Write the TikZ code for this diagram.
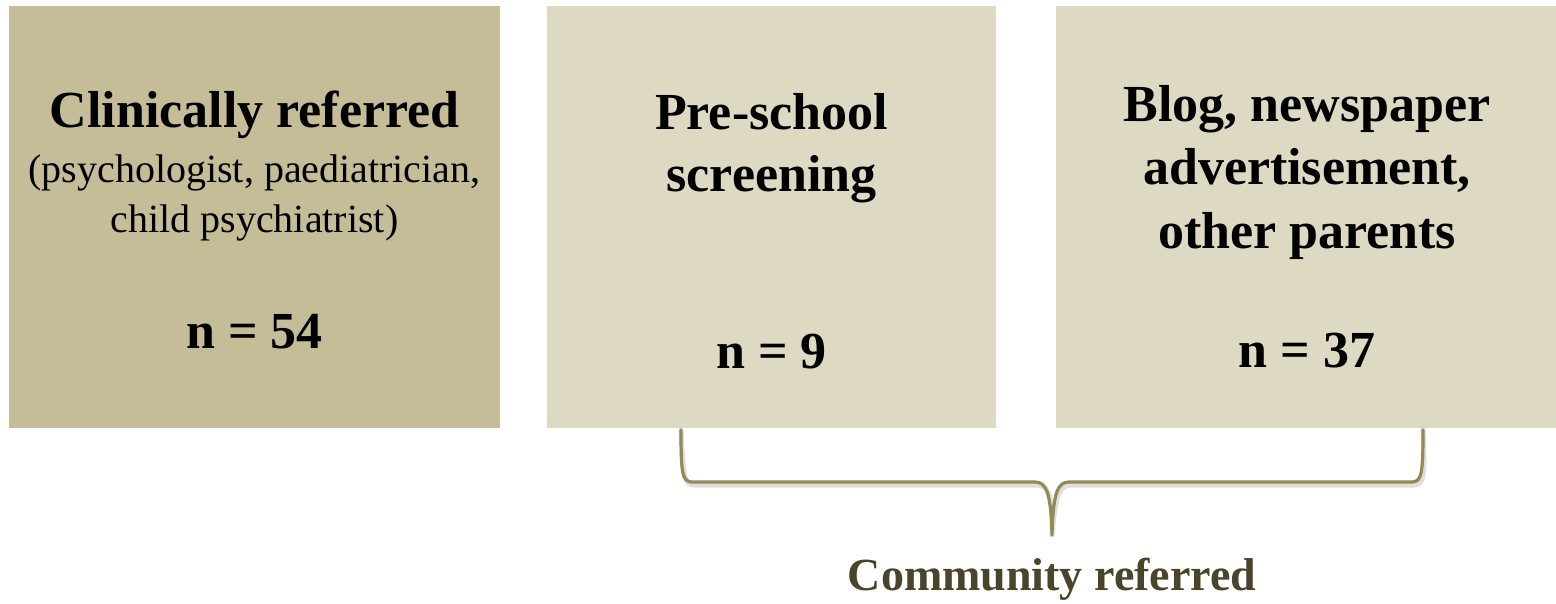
\documentclass[tikz,border=0pt]{standalone}
\usepackage{fontspec}
\setmainfont{Liberation Serif}
\definecolor{tandark}{HTML}{C4BD97}
\definecolor{tanlight}{HTML}{DDD9C3}
\definecolor{bracecol}{HTML}{948A54}
\definecolor{labelcol}{HTML}{4A452A}
\tikzset{
  box/.style={rectangle, inner sep=0pt, draw=none},
  ttl/.style={anchor=base, inner sep=0pt, font=\fontsize{52}{62}\selectfont\bfseries},
  sub/.style={anchor=base, inner sep=0pt, font=\fontsize{40}{50}\selectfont},
  bracestyle/.style={draw=bracecol, line width=3.2pt, line cap=round, line join=round},
  braceshadow/.style={draw=black, opacity=0.13, line width=5pt, line cap=round, line join=round},
  lbl/.style={anchor=base, inner sep=0pt, text=labelcol, font=\fontsize{46}{56}\selectfont\bfseries}
}
\begin{document}
\begin{tikzpicture}[x=1pt,y=-1pt]
\useasboundingbox (0,0) rectangle (1556,604);
\fill[white] (0,0) rectangle (1556,604);
% boxes
\node[box, fill=tandark, minimum width=491pt, minimum height=422pt] (b1) at (254.5,217) {};
\node[box, fill=tanlight, minimum width=449pt, minimum height=422pt] (b2) at (771.5,217) {};
\node[box, fill=tanlight, minimum width=500pt, minimum height=422pt] (b3) at (1306,217) {};
% box 1 text
\node[ttl] (t1a) at (254.5,128) {Clinically referred};
\node[sub] (t1b) at (254.5,183) {(psychologist, paediatrician,};
\node[sub] (t1c) at (254.5,233) {child psychiatrist)};
\node[ttl] (t1n) at (254.5,348) {n = 54};
% box 2 text
\node[ttl] (t2a) at (771.5,130) {Pre-school};
\node[ttl] (t2b) at (771.5,192) {screening};
\node[ttl] (t2n) at (771.5,368) {n = 9};
% box 3 text
\node[ttl] (t3a) at (1307,122) {Blog, newspaper};
\node[ttl] (t3b) at (1307,185) {advertisement,};
\node[ttl] (t3c) at (1307,248) {other parents};
\node[ttl] (t3n) at (1307,367) {n = 37};
% brace
\coordinate (bl) at (681,430);
\coordinate (br) at (1423,430);
\coordinate (tip) at (1052,535);
\draw[braceshadow, shift={(2pt,-3pt)}] (bl) .. controls (681,472) and (682,482) .. (692,482) -- (1035,482) .. controls (1046,482) and (1051,492) .. (tip) .. controls (1053,492) and (1058,482) .. (1069,482) -- (1412,482) .. controls (1422,482) and (1423,472) .. (br);
\draw[bracestyle] (bl) .. controls (681,472) and (682,482) .. (692,482) -- (1035,482) .. controls (1046,482) and (1051,492) .. (tip) .. controls (1053,492) and (1058,482) .. (1069,482) -- (1412,482) .. controls (1422,482) and (1423,472) .. (br);
\node[lbl] (cr) at (1052,590) {Community referred};
\end{tikzpicture}
\end{document}
